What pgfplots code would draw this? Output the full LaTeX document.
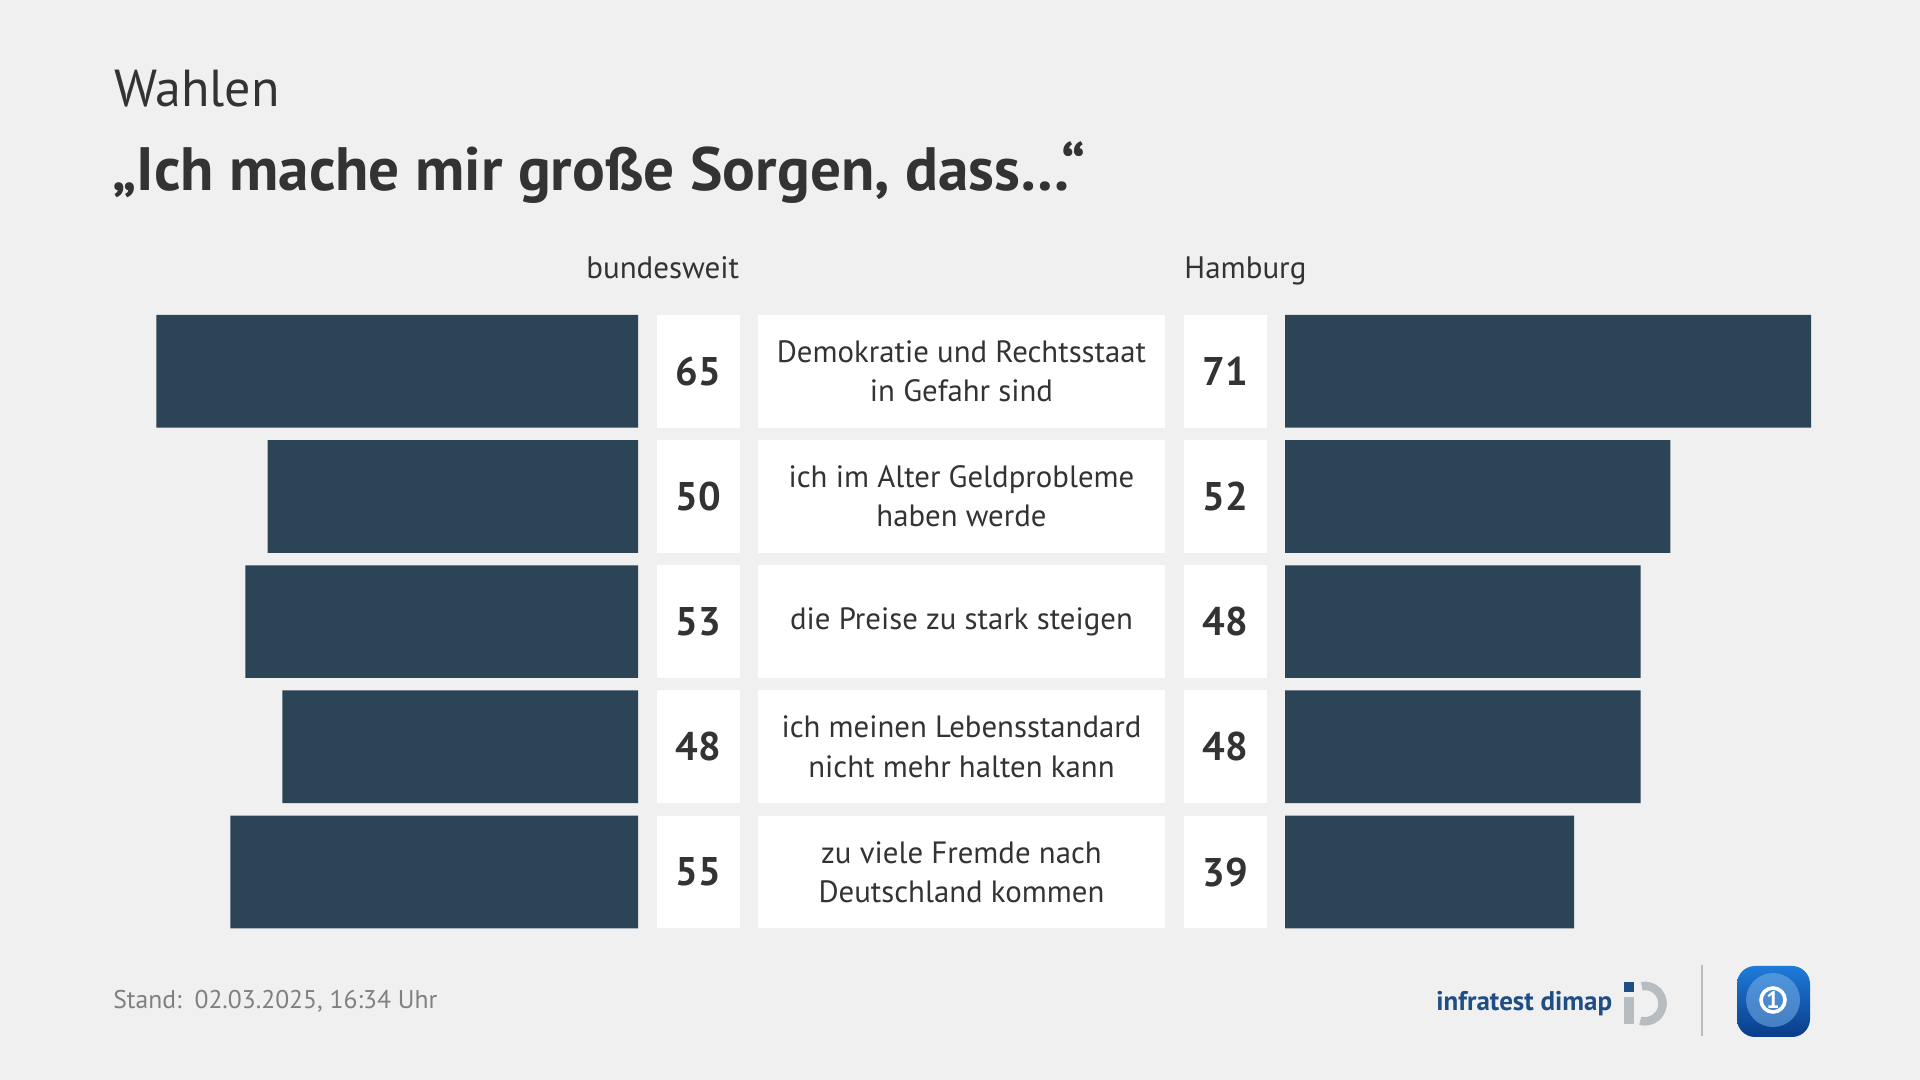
\documentclass[border=0pt]{standalone}
\usepackage{pgfplots}
\pgfplotsset{compat=1.18}
\usepackage{pgfplotstable}
\usepackage{fontspec}
\setmainfont{PT Sans}
\definecolor{bg}{HTML}{F0F0F0}
\definecolor{barc}{HTML}{2B4557}
\definecolor{txt}{HTML}{333333}
\definecolor{foot}{HTML}{808080}
\definecolor{infra}{HTML}{1F4E85}
\definecolor{idgrey}{HTML}{B7BCC1}
\definecolor{ardA}{HTML}{1E7BD8}
\definecolor{ardB}{HTML}{0A3C8A}

\pgfplotstableread{
row bund hh
1 65 71
2 50 52
3 53 48
4 48 48
5 55 39
}\data

\tikzset{lbl/.style={fill=white, inner sep=0, minimum width=203.5pt, minimum height=56.35pt,
    align=center, text=txt, font=\fontsize{15.4}{19.6}\selectfont}}
\pgfplotsset{valbox/.style={draw=none, mark=none, nodes near coords, point meta=explicit,
  every node near coord/.style={anchor=center, fill=white, inner sep=0,
  minimum width=41.5pt, minimum height=56.35pt, text=txt,
  font=\fontsize{20}{24}\selectfont\bfseries}}}

\begin{document}
\begin{tikzpicture}[x=0.5pt,y=0.5pt]
\useasboundingbox (0,0) rectangle (1920,1080);
\fill[bg] (0,0) rectangle (1920,1080);
% titles
\node[anchor=base west, inner sep=0, text=txt, font=\fontsize{26}{30}\selectfont] at (114,973.5) {Wahlen};
\node[anchor=base west, inner sep=0, text=txt, font=\fontsize{30.6}{36}\selectfont\bfseries] at (112,889) {„Ich mache mir große Sorgen, dass…“};
% column headers
\node[anchor=base east, inner sep=0, text=txt, font=\fontsize{15.5}{20}\selectfont] at (739.6,801) {bundesweit};
\node[anchor=base west, inner sep=0, text=txt, font=\fontsize{15.5}{20}\selectfont] at (1184,801) {Hamburg};

% left axis (bundesweit)
\begin{axis}[at={(319pt,72.7pt)}, anchor=south east, scale only axis,
  width=240.8pt, height=313pt, xmin=0, xmax=65, ymin=0.5, ymax=5.5,
  x dir=reverse, y dir=reverse, hide axis, clip=false,
  /pgf/number format/assume math mode=true]
\addplot[xbar, bar width=56.35pt, fill=barc, draw=none] table[x=bund, y=row] {\data};
\addplot[valbox] table[x expr=-8.16, y=row, meta=bund] {\data};
\node[lbl] at (axis cs:-43.66,1) {Demokratie und Rechtsstaat\\in Gefahr sind};
\node[lbl] at (axis cs:-43.66,2) {ich im Alter Geldprobleme\\haben werde};
\node[lbl] at (axis cs:-43.66,3) {die Preise zu stark steigen};
\node[lbl] at (axis cs:-43.66,4) {ich meinen Lebensstandard\\nicht mehr halten kann};
\node[lbl] at (axis cs:-43.66,5) {zu viele Fremde nach\\Deutschland kommen};
\end{axis}

% right axis (Hamburg)
\begin{axis}[at={(642.5pt,72.7pt)}, anchor=south west, scale only axis,
  width=263.05pt, height=313pt, xmin=0, xmax=71, ymin=0.5, ymax=5.5,
  y dir=reverse, hide axis, clip=false,
  /pgf/number format/assume math mode=true]
\addplot[xbar, bar width=56.35pt, fill=barc, draw=none] table[x=hh, y=row] {\data};
\addplot[valbox] table[x expr=-8.03, y=row, meta=hh] {\data};
\end{axis}

% footer
\node[anchor=base west, inner sep=0, text=foot, font=\fontsize{12.8}{16}\selectfont] at (113,71) {Stand:\enspace 02.03.2025, 16:34 Uhr};
\node[anchor=base west, inner sep=0, text=infra, font=\fontsize{13.5}{17}\selectfont\bfseries] at (1436,69) {infratest dimap};
% iD icon
\fill[infra] (1624,88) rectangle (1634,98);
\fill[idgrey] (1624,56) rectangle (1634,83);
\fill[idgrey] (1641,98) arc[start angle=100, end angle=-105, radius=22] -- ++(2.2,8.2) arc[start angle=-105, end angle=100, radius=13.5] -- cycle;
% separator
\draw[idgrey, line width=1.2pt] (1702,44) -- (1702,115);
% ARD icon
\shade[rounded corners=9, top color=ardA, bottom color=ardB] (1737,43) rectangle (1810,114);
\fill[ardA!60!white, opacity=0.55] (1773,80) circle[radius=27];
\draw[white, line width=1.8pt] (1773,80) circle[radius=12];
\node[text=white, font=\fontsize{12}{14}\selectfont\bfseries, inner sep=0] at (1773,80) {1};
\end{tikzpicture}
\end{document}
